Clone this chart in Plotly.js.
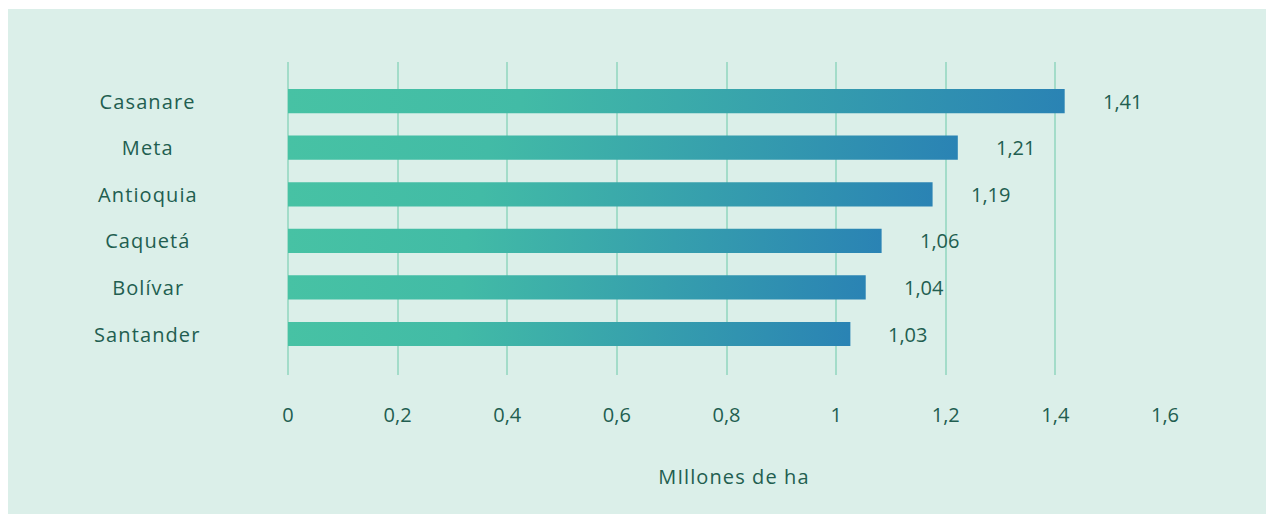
<!DOCTYPE html>
<html>
<head>
<meta charset="utf-8">
<script src="https://cdn.plot.ly/plotly-3.0.1.min.js"></script>
<style>
  html, body { margin: 0; padding: 0; background: #ffffff; width: 1266px; height: 514px; overflow: hidden; }
  #chart { position: absolute; left: 8px; top: 9px; width: 1258px; height: 505px; }
</style>
</head>
<body>
<div id="chart"></div>
<script>
// Data
const categories = ["Casanare", "Meta", "Antioquia", "Caquetá", "Bolívar", "Santander"];
const values = [1.417, 1.222, 1.176, 1.083, 1.054, 1.026];
const valueLabels = ["1,41", "1,21", "1,19", "1,06", "1,04", "1,03"];
const xTickVals = [0, 0.2, 0.4, 0.6, 0.8, 1, 1.2, 1.4, 1.6];
const xTickText = ["0", "0,2", "0,4", "0,6", "0,8", "1", "1,2", "1,4", "1,6"];
const xTitle = "MIllones de ha";

const textColor = "#225e50";
const gridColor = "#a3dcc9";
const bgColor = "#dbefe9";
const fontFamily = "'Open Sans', 'Noto Sans', sans-serif";

const trace = {
  type: "bar",
  orientation: "h",
  y: categories,
  x: values,
  marker: { color: "#3aa6ad" },
  hoverinfo: "skip"
};

const annotations = [];
categories.forEach((c, i) => {
  annotations.push({
    x: -0.1598, xref: "paper", y: c, yref: "y",
    text: c, showarrow: false, xanchor: "center", yanchor: "middle",
    font: { family: fontFamily, size: 20, color: textColor }
  });
  annotations.push({
    x: values[i], xref: "x", y: c, yref: "y",
    text: valueLabels[i], showarrow: false, xanchor: "left", yanchor: "middle",
    xshift: 36,
    font: { family: fontFamily, size: 20, color: textColor }
  });
});
annotations.push({
  x: 0.508, xref: "paper", y: -0.325, yref: "paper",
  text: xTitle, showarrow: false, xanchor: "center", yanchor: "middle",
  font: { family: fontFamily, size: 20, color: textColor }
});

const layout = {
  width: 1258, height: 505,
  paper_bgcolor: bgColor, plot_bgcolor: bgColor,
  margin: { l: 280, r: 101, t: 53, b: 139, pad: 0 },
  showlegend: false,
  bargap: 0.48,
  font: { family: fontFamily, size: 20, color: textColor },
  xaxis: {
    range: [0, 1.6],
    tickvals: xTickVals, ticktext: xTickText,
    showgrid: true, gridcolor: gridColor, gridwidth: 2,
    zeroline: true, zerolinecolor: gridColor, zerolinewidth: 2,
    showline: false,
    ticks: "outside", ticklen: 22, tickcolor: "rgba(0,0,0,0)",
    tickfont: { family: fontFamily, size: 20, color: textColor },
    fixedrange: true
  },
  yaxis: {
    type: "category",
    range: [5.88, -0.84],
    showticklabels: false,
    showgrid: false, zeroline: false, showline: false,
    ticks: "",
    fixedrange: true
  },
  annotations: annotations
};

Plotly.newPlot("chart", [trace], layout, { displayModeBar: false, staticPlot: true }).then(gd => {
  const svg = gd.querySelector("svg.main-svg");
  const ns = "http://www.w3.org/2000/svg";
  let defs = svg.querySelector("defs");
  if (!defs) { defs = document.createElementNS(ns, "defs"); svg.insertBefore(defs, svg.firstChild); }
  const grad = document.createElementNS(ns, "linearGradient");
  grad.setAttribute("id", "barGrad");
  grad.setAttribute("x1", "0"); grad.setAttribute("y1", "0");
  grad.setAttribute("x2", "1"); grad.setAttribute("y2", "0");
  [["0", "#47c2a4"], ["0.3", "#42bba6"], ["1", "#2a83b4"]].forEach(([o, c]) => {
    const s = document.createElementNS(ns, "stop");
    s.setAttribute("offset", o); s.setAttribute("stop-color", c);
    grad.appendChild(s);
  });
  defs.appendChild(grad);
  gd.querySelectorAll(".barlayer .point path").forEach(p => {
    p.style.fill = "url(#barGrad)";
  });
  // widen the category and title text slightly to resemble the original geometric typeface
  const ann = gd.querySelectorAll(".annotation");
  ann.forEach((a, i) => {
    const isCategory = i < categories.length * 2 && i % 2 === 0;
    const isTitle = i === categories.length * 2;
    if (isCategory || isTitle) {
      const t = a.querySelector("text");
      if (t) t.style.letterSpacing = "1.1px";
    }
  });
});
</script>
</body>
</html>
